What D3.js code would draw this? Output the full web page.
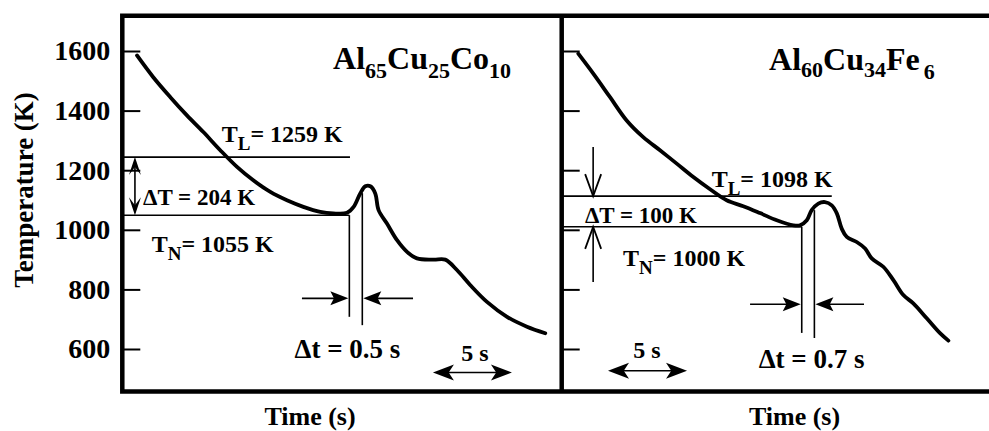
<!DOCTYPE html>
<html>
<head>
<meta charset="utf-8">
<script src="https://cdn.jsdelivr.net/npm/d3@7"></script>
<style>
  body { margin: 0; background: #fff; }
  svg { display: block; }
  text { font-family: "Liberation Serif", "Times New Roman", serif; font-weight: bold; fill: #000; }
</style>
</head>
<body>
<svg id="chart" width="989" height="431"></svg>
<script>
// temperature ticks (K)
var yTicks = [600, 800, 1000, 1200, 1400, 1600];

// Al65Cu25Co10 cooling curve: time (s), temperature (K)
var leftTime = [0.93, 1.96, 3.04, 4.09, 5.13, 6.20, 7.26, 8.29, 9.37, 10.42, 11.46, 12.53, 13.35, 14.22,
                14.64, 15.06, 15.38, 15.70, 16.01, 16.22, 16.75, 17.39, 18.02, 18.65, 19.70, 20.44,
                21.18, 22.03, 23.08, 24.35, 25.61, 26.77];
var leftTemp = [1585, 1512, 1445, 1384, 1328, 1267, 1211, 1166, 1127, 1099, 1077, 1060, 1055, 1057,
                1077, 1122, 1146, 1146, 1122, 1066, 1021, 965, 926, 904, 900, 900,
                865, 814, 758, 708, 675, 653];

// Al60Cu34Fe6 cooling curve: time (s), temperature (K)
var rightTime = [1.05, 2.00, 3.06, 4.11, 5.16, 6.22, 7.28, 8.33, 9.39, 10.44, 11.49, 12.55, 13.61, 14.66,
                 15.08, 15.51, 15.82, 16.24, 16.66, 17.09, 17.41, 17.72, 18.04, 18.67, 19.20, 19.62,
                 20.35, 20.99, 21.62, 22.25, 23.10, 23.94, 24.47];
var rightTemp = [1591, 1524, 1445, 1367, 1311, 1267, 1222, 1177, 1136, 1099, 1079, 1056, 1032, 1015,
                 1015, 1032, 1066, 1088, 1093, 1082, 1055, 1004, 976, 959, 937, 904,
                 876, 831, 781, 753, 703, 653, 628];

// liquidus / nucleation levels as drawn (K), and where each stops (s)
var leftLevels = [1244, 1049];
var leftLevelEnds = [14.41, 14.37];
var rightLevels = [1113, 1010];
var rightLevelEnds = [17.09, 15.19];

var svg = d3.select('#chart');
var y = d3.scaleLinear().domain([600, 1600]).range([349, 51]);
var xLeft = d3.scaleLinear().domain([0, 27.81]).range([122.3, 561.7]);
var xRight = d3.scaleLinear().domain([0, 27.04]).range([561.7, 989]);

var curveLine = function (x) {
  return d3.line()
    .x(function (d) { return x(d[0]); })
    .y(function (d) { return y(d[1]); })
    .curve(d3.curveCatmullRom.alpha(0.5));
};

// filled, slightly notched arrow head with its tip at (px,py)
var head = function (g, px, py, angle, len, hw, notch) {
  g.append('path')
    .attr('d', 'M0,0L' + (-len) + ',' + (-hw) + 'L' + (-len * notch) + ',0L' + (-len) + ',' + hw + 'Z')
    .attr('transform', 'translate(' + px + ',' + py + ') rotate(' + angle + ')')
    .attr('fill', '#000');
};

// open V arrow head
var vHead = function (g, px, py, angle, len, hw) {
  g.append('path')
    .attr('d', 'M' + (-len) + ',' + (-hw) + 'L0,0L' + (-len) + ',' + hw)
    .attr('transform', 'translate(' + px + ',' + py + ') rotate(' + angle + ')')
    .attr('fill', 'none').attr('stroke', '#000').attr('stroke-width', 1.8);
};

var hline = function (g, x1, x2, yy) {
  g.append('line').attr('x1', x1).attr('x2', x2).attr('y1', yy).attr('y2', yy)
    .attr('stroke', '#000').attr('stroke-width', 1.6);
};
var vline = function (g, xx, y1, y2) {
  g.append('line').attr('x1', xx).attr('x2', xx).attr('y1', y1).attr('y2', y2)
    .attr('stroke', '#000').attr('stroke-width', 1.6);
};

// text with subscripts: parts = [[str, size, dy, dx], ...]
var label = function (g, px, py, size, parts, anchor) {
  var t = g.append('text').attr('x', px).attr('y', py)
    .attr('font-size', size).attr('text-anchor', anchor || 'start');
  parts.forEach(function (p) {
    var s = t.append('tspan').text(p[0]);
    if (p[1]) s.attr('font-size', p[1]);
    if (p[2]) s.attr('dy', p[2]);
    if (p[3]) s.attr('dx', p[3]);
  });
  return t;
};

// axes (ticks only, frame drawn separately)
var axisL = svg.append('g').attr('transform', 'translate(' + xLeft(0) + ',0)')
  .call(d3.axisLeft(y).tickValues(yTicks).tickSize(-18).tickPadding(12).tickFormat(d3.format('d')));
var axisR = svg.append('g').attr('transform', 'translate(' + xRight(0) + ',0)')
  .call(d3.axisLeft(y).tickValues(yTicks).tickSize(-18).tickFormat(''));
[axisL, axisR].forEach(function (a) {
  a.select('.domain').remove();
  a.selectAll('.tick line').attr('stroke', '#000').attr('stroke-width', 2);
  a.selectAll('.tick text').attr('font-size', 28).attr('font-family', null).attr('fill', '#000');
});

// frame
svg.append('path')
  .attr('d', 'M989,' + y(1718) + 'H' + xLeft(0) + 'V' + y(457) + 'H989M' + xRight(0) + ',' + y(1718) + 'V' + y(457))
  .attr('fill', 'none').attr('stroke', '#000').attr('stroke-width', 4.5).attr('stroke-linecap', 'square');

// ---- left panel: Al65Cu25Co10
var gl = svg.append('g');
hline(gl, xLeft(0), xLeft(leftLevelEnds[0]), y(leftLevels[0]));
hline(gl, xLeft(0), xLeft(leftLevelEnds[1]), y(leftLevels[1]));
vline(gl, xLeft(14.37), y(leftLevels[1]), y(708));
vline(gl, xLeft(15.19), y(1123), y(680));
gl.append('path').datum(d3.zip(leftTime, leftTemp))
  .attr('d', curveLine(xLeft)).attr('fill', 'none').attr('stroke', '#000')
  .attr('stroke-width', 3.8).attr('stroke-linejoin', 'round').attr('stroke-linecap', 'round');

// delta T double arrow
vline(gl, xLeft(0.8), y(leftLevels[0]) + 4, y(leftLevels[1]) - 4);
head(gl, xLeft(0.8), y(leftLevels[0]), -90, 18, 6, 0.55);
head(gl, xLeft(0.8), y(leftLevels[1]), 90, 18, 6, 0.55);
// delta t arrows
hline(gl, xLeft(11.37), xLeft(14.37) - 6, y(770));
head(gl, xLeft(14.37) - 1, y(770), 0, 18, 7, 0.8);
hline(gl, xLeft(18.40), xLeft(15.19) + 6, y(770));
head(gl, xLeft(15.19) + 1, y(770), 180, 18, 7, 0.8);
// 5 s scale bar
hline(gl, xLeft(19.66) + 8, xLeft(24.66) - 8, y(521));
head(gl, xLeft(19.66), y(521), 180, 21, 8, 0.75);
head(gl, xLeft(24.66), y(521), 0, 21, 8, 0.75);

label(gl, xLeft(13.34), y(1541), 32, [['Al'], ['65', 22, 9], ['Cu', 32, -9], ['25', 22, 9], ['Co', 32, -9], ['10', 22, 9]]);
label(gl, xLeft(6.29), y(1294), 24, [['T'], ['L', 19, 8], ['= 1259 K', 24, -8]]);
label(gl, xLeft(1.31), y(1082), 23, [['\u0394T = 204 K']]);
label(gl, xLeft(1.86), y(926), 24, [['T'], ['N', 19, 8], ['= 1055 K', 24, -8]]);
label(gl, xLeft(14.25), y(570), 27, [['\u0394t = 0.5 s']], 'middle');
label(gl, xLeft(22.32), y(560), 24, [['5 s']], 'middle');

// ---- right panel: Al60Cu34Fe6
var gr = svg.append('g');
hline(gr, xRight(0), xRight(rightLevelEnds[0]), y(rightLevels[0]));
hline(gr, xRight(0), xRight(rightLevelEnds[1]), y(rightLevels[1]));
vline(gr, xRight(15.19), y(rightLevels[1]), y(654));
vline(gr, xRight(15.99), y(1066), y(637));
gr.append('path').datum(d3.zip(rightTime, rightTemp))
  .attr('d', curveLine(xRight)).attr('fill', 'none').attr('stroke', '#000')
  .attr('stroke-width', 3.8).attr('stroke-linejoin', 'round').attr('stroke-linecap', 'round');

// delta T arrows pointing at the two levels
vline(gr, xRight(1.99), y(1278), y(rightLevels[0]));
vHead(gr, xRight(1.99), y(rightLevels[0]), 90, 22, 8);
vline(gr, xRight(1.99), y(825), y(rightLevels[1]));
vHead(gr, xRight(1.99), y(rightLevels[1]), -90, 22, 8);
// delta t arrows
hline(gr, xRight(11.92), xRight(15.19) - 6, y(750));
head(gr, xRight(15.19) - 1, y(750), 0, 18, 7, 0.8);
hline(gr, xRight(19.13), xRight(15.99) + 6, y(750));
head(gr, xRight(15.99) + 1, y(750), 180, 18, 7, 0.8);
// 5 s scale bar
hline(gr, xRight(2.93) + 8, xRight(7.93) - 8, y(527));
head(gr, xRight(2.93), y(527), 180, 21, 8, 0.75);
head(gr, xRight(7.93), y(527), 0, 21, 8, 0.75);

label(gr, xRight(13.12), y(1535), 32, [['Al'], ['60', 22, 7], ['Cu', 32, -7], ['34', 22, 7], ['Fe', 32, -7], ['6', 22, 9, 4]]);
label(gr, xRight(9.49), y(1143), 24, [['T'], ['L', 19, 8], ['= 1098 K', 24, -8]]);
label(gr, xRight(1.47), y(1023), 23, [['\u0394T = 100 K']]);
label(gr, xRight(3.88), y(878), 24, [['T'], ['N', 19, 8], ['= 1000 K', 24, -8]]);
label(gr, xRight(15.81), y(536), 27, [['\u0394t = 0.7 s']], 'middle');
label(gr, xRight(5.40), y(570), 24, [['5 s']], 'middle');

// axis titles
svg.append('text').attr('transform', 'translate(33,190) rotate(-90)')
  .attr('text-anchor', 'middle').attr('font-size', 27).text('Temperature (K)');
svg.append('text').attr('x', 310).attr('y', 425).attr('text-anchor', 'middle')
  .attr('font-size', 26).text('Time (s)');
svg.append('text').attr('x', 794.5).attr('y', 425).attr('text-anchor', 'middle')
  .attr('font-size', 26).text('Time (s)');
</script>
</body>
</html>
